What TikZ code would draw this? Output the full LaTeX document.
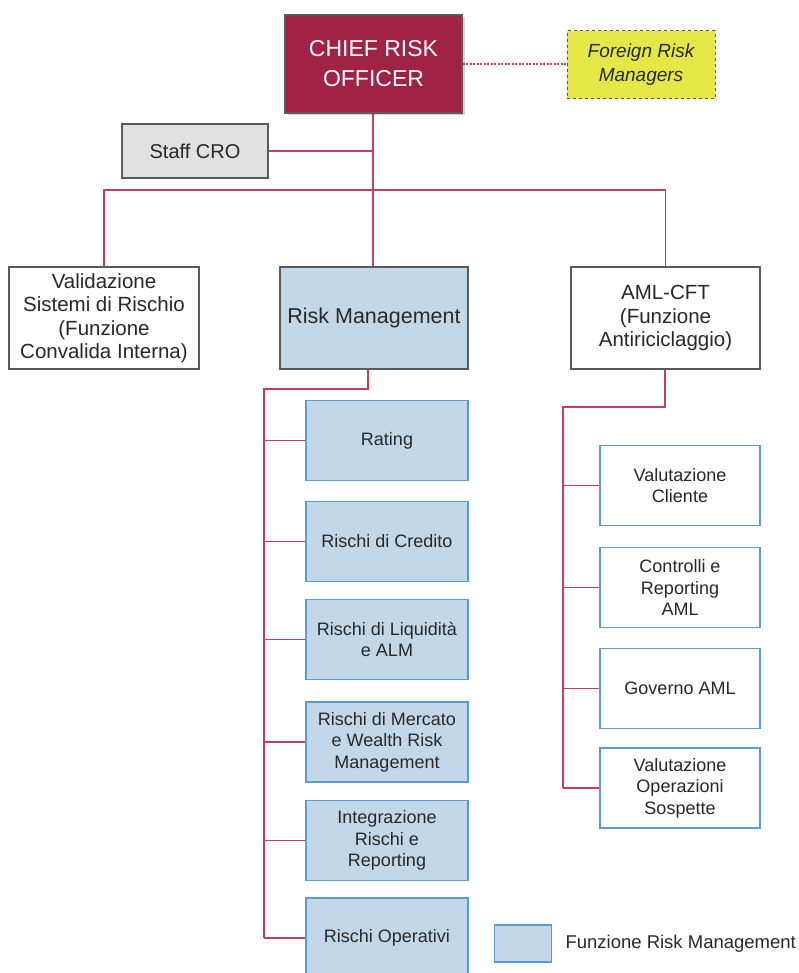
\documentclass[tikz,border=0pt]{standalone}
\usepackage{fontspec}
\setmainfont{Liberation Sans}
\usetikzlibrary{shadows}
\definecolor{crored}{RGB}{160,35,70}
\definecolor{frmyellow}{RGB}{229,231,70}
\definecolor{staffgray}{RGB}{225,225,225}
\definecolor{rmblue}{RGB}{194,216,233}
\definecolor{subblue}{RGB}{91,155,213}
\definecolor{linered}{RGB}{196,62,100}
\definecolor{boxgray}{RGB}{90,90,90}
\definecolor{textgray}{RGB}{40,40,40}
\begin{document}
\begin{tikzpicture}[x=1pt,y=-1pt,
  topbox/.style={draw=boxgray, line width=1.2pt, fill=white, text=textgray, inner sep=0pt, align=center,
    minimum width=189pt, minimum height=102pt, font=\fontsize{20.5}{23.5}\selectfont},
  crobox/.style={draw=boxgray, line width=1.2pt, fill=crored, text=white, inner sep=0pt, align=center,
    minimum width=177pt, minimum height=98pt, font=\fontsize{23}{30}\selectfont,
    drop shadow={shadow xshift=2.5pt, shadow yshift=-2.5pt, opacity=0.35}},
  frmbox/.style={draw=boxgray, dashed, line width=1pt, fill=frmyellow, text=textgray, inner sep=0pt, align=center,
    minimum width=148pt, minimum height=68pt, font=\fontsize{19}{24}\selectfont\itshape},
  subbox/.style={draw=subblue, line width=1.8pt, fill=rmblue, text=textgray, inner sep=0pt, align=center,
    minimum width=162pt, minimum height=80pt, font=\fontsize{18}{21.5}\selectfont},
  amlbox/.style={subbox, fill=white, minimum width=160pt},
  conn/.style={draw=linered, line width=1.6pt},
  dotconn/.style={draw=linered, line width=1.5pt, dash pattern=on 2pt off 1.5pt}
]
\useasboundingbox (0,0) rectangle (798,973);

% top level
\node[crobox] (cro) at (373.5,64) {CHIEF RISK\\OFFICER};
\node[frmbox] (frm) at (641,65) {Foreign Risk\\Managers};
\node[topbox, fill=staffgray, minimum width=146pt, minimum height=54pt, font=\fontsize{20}{24}\selectfont] (staff) at (195,151) {Staff CRO};
\node[topbox, minimum width=190pt] (val) at (104,318) {Validazione\\Sistemi di Rischio\\(Funzione\\Convalida Interna)};
\node[topbox, fill=rmblue, minimum width=188pt, font=\fontsize{21.5}{24}\selectfont] (rm) at (374,318) {Risk Management};
\node[topbox] (aml) at (665.5,318) {AML-CFT\\(Funzione\\Antiriciclaggio)};

% risk management children
\node[subbox] (s1) at (387,440.5) {Rating};
\node[subbox] (s2) at (387,541.5) {Rischi di Credito};
\node[subbox] (s3) at (387,639.5) {Rischi di Liquidità\\e ALM};
\node[subbox] (s4) at (387,742) {Rischi di Mercato\\e Wealth Risk\\Management};
\node[subbox] (s5) at (387,840.5) {Integrazione\\Rischi e\\Reporting};
\node[subbox] (s6) at (387,938) {Rischi Operativi};

% AML children
\node[amlbox] (a1) at (680,485.5) {Valutazione\\Cliente};
\node[amlbox] (a2) at (680,587.5) {Controlli e\\Reporting\\AML};
\node[amlbox] (a3) at (680,688.5) {Governo AML};
\node[amlbox] (a4) at (680,788) {Valutazione\\Operazioni\\Sospette};

% legend
\node[subbox, minimum width=57pt, minimum height=37pt] (leg) at (523,943.5) {};
\node[anchor=west, text=textgray, font=\fontsize{18.5}{22}\selectfont] (legt) at (562,944) {Funzione Risk Management};

% connectors
\coordinate (bus) at (373,190);
\draw[conn] (cro.south -| bus) -- (bus);
\draw[conn] (staff.east) -- (staff.east -| bus);
\draw[conn] (val.north) |- (bus) -| (aml.north);
\draw[conn] (bus) -- (rm.north -| bus);
\draw[dotconn] (cro.east) -- (cro.east -| frm.west);

\coordinate (rmj) at (368,389);
\coordinate (rmv) at (264,389);
\draw[conn] (rm.south -| rmj) -- (rmj) -- (rmv) -- (rmv |- s6.west);
\foreach \s in {s1,s2,s3,s4,s5,s6} \draw[conn] (rmv |- \s.west) -- (\s.west);

\coordinate (amlj) at (665,407);
\coordinate (amlv) at (563,407);
\draw[conn] (aml.south -| amlj) -- (amlj) -- (amlv) -- (amlv |- a4.west);
\foreach \s in {a1,a2,a3,a4} \draw[conn] (amlv |- \s.west) -- (\s.west);
\end{tikzpicture}
\end{document}
